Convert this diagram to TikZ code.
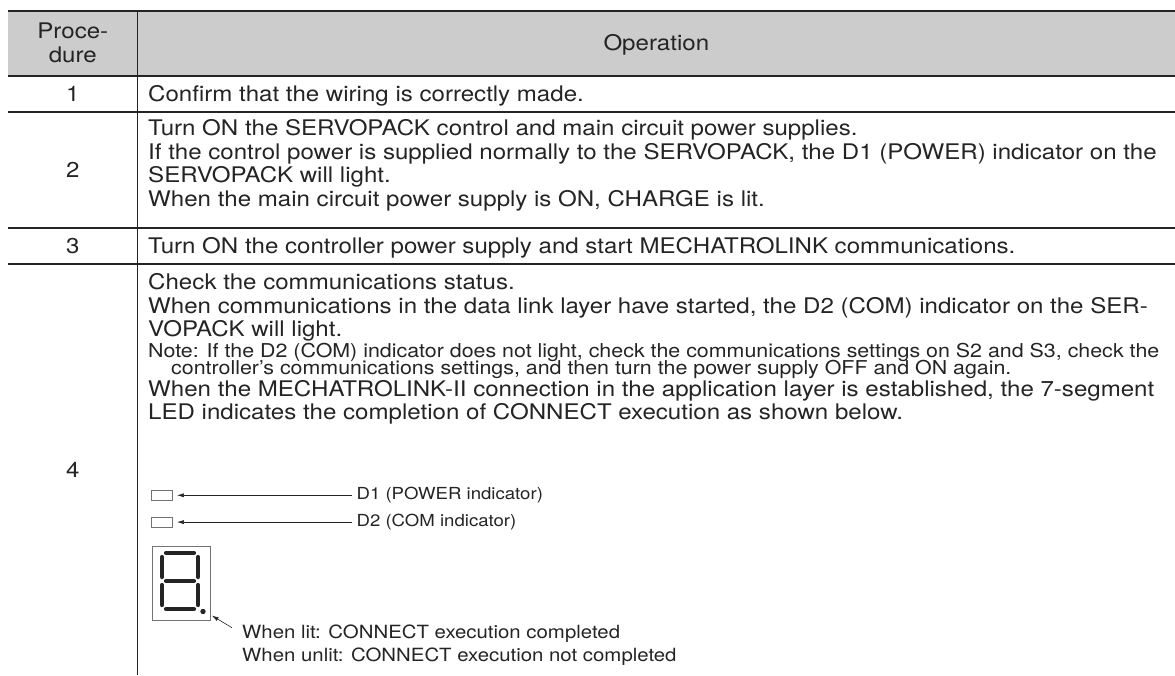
\documentclass[tikz,border=0pt]{standalone}
\usepackage{fontspec}
\setmainfont{TeX Gyre Heros}[FakeStretch=1.12]
\usepackage{tikz}
\usetikzlibrary{positioning,arrows.meta}

\definecolor{headgray}{gray}{0.80}
\definecolor{ink}{gray}{0.14}
\definecolor{boxgray}{gray}{0.45}

\tikzset{
  rule/.style={line width=1.8pt, ink},
  body/.style={font=\fontsize{21.5}{23.3}\selectfont, text=ink, inner sep=0pt, anchor=base west},
  num/.style={font=\fontsize{21.5}{23.3}\selectfont, text=ink, inner sep=0pt, anchor=base},
  note/.style={font=\fontsize{19.1}{17}\selectfont, text=ink, inner sep=0pt, anchor=base west},
  tag/.style={font=\fontsize{16.6}{22}\selectfont, text=ink, inner sep=0pt},
  lit/.style={font=\fontsize{18.2}{22}\selectfont, text=ink, inner sep=0pt, anchor=base west},
  lamp/.style={draw=boxgray, line width=0.8pt, minimum width=21pt, minimum height=10pt, inner sep=0pt},
  seg/.style={line width=4.2pt, line cap=round, ink},
  pointer/.style={-{Latex[length=7pt,width=4pt]}, line width=0.6pt, ink}
}

\begin{document}
\begin{tikzpicture}[x=1pt,y=-1pt]
\useasboundingbox (0,0) rectangle (1175,675);

  % Table frame
\fill[headgray] (8,11.3) rectangle (1175,75.7);
\draw[rule] (8,11.3) -- (1175,11.3);
\draw[rule] (8,75.7) -- (1175,75.7);
\draw[rule] (8,111.7) -- (1175,111.7);
\draw[rule] (8,227.7) -- (1175,227.7);
\draw[rule] (8,264) -- (1175,264);
\draw[rule] (137.5,11.3) -- (137.5,675);

  % Header
\node[num] (hproc) at (72.8,38) {Proce-};
\node[num] (hdure) at (72.8,62) {dure};
\node[num] (hop)   at (656.3,50.5) {Operation};

  % Step numbers
\node[num] (n1) at (72.8,101.5) {1};
\node[num] (n2) at (72.8,177.5) {2};
\node[num] (n3) at (72.8,253.5) {3};
\node[num] (n4) at (72.8,477) {4};

  % Operations
\node[body] (op1) at (148,101.5) {Confirm that the wiring is correctly made.};
\foreach \txt [count=\i] in {{Turn ON the SERVOPACK control and main circuit power supplies.},
  {If the control power is supplied normally to the SERVOPACK, the D1 (POWER) indicator on the},
  {SERVOPACK will light.},
  {When the main circuit power supply is ON, CHARGE is lit.}}
  \node[body] (op2-\i) at (148,{112.4+23.4*\i}) {\txt};
\node[body] (op3) at (148,253.5) {Turn ON the controller power supply and start MECHATROLINK communications.};
\foreach \txt [count=\i] in {{Check the communications status.},
  {When communications in the data link layer have started, the D2 (COM) indicator on the SER-},
  {VOPACK will light.}}
  \node[body] (op4-\i) at (148,{266+23.5*\i}) {\txt};
\node[note] (note1) at (148,357) {Note: If the D2 (COM) indicator does not light, check the communications settings on S2 and S3, check the};
\node[note] (note2) at (171,374) {controller’s communications settings, and then turn the power supply OFF and ON again.};
\node[body] (op4b-1) at (148,396) {When the MECHATROLINK-II connection in the application layer is established, the 7-segment};
\node[body] (op4b-2) at (148,419.5) {LED indicates the completion of CONNECT execution as shown below.};

  % Indicators
\node[lamp] (d1) at (161.5,495.3) {};
\node[lamp, below=16pt of d1] (d2) {};
\node[tag, right=184pt of d1] (d1txt) {D1 (POWER indicator)};
\node[tag, right=184pt of d2] (d2txt) {D2 (COM indicator)};
\draw[pointer] ([xshift=-4pt]d1txt.west) -- ([xshift=4.5pt]d1.east);
\draw[pointer] ([xshift=-4pt]d2txt.west) -- ([xshift=4.5pt]d2.east);

  % 7-segment LED
\node[draw=boxgray, line width=0.8pt, minimum width=58.5pt, minimum height=74pt, inner sep=0pt] (led) at (181.5,583) {};
\draw[seg] (166,553) -- (194,553);
\draw[seg] (166,581) -- (194,581);
\draw[seg] (166,609) -- (194,609);
\draw[seg] (162,557) -- (162,577);
\draw[seg] (198,557) -- (198,577);
\draw[seg] (162,585) -- (162,605);
\draw[seg] (198,585) -- (198,605);
\fill[ink] (203,611.5) circle (2.7pt) coordinate (ledot);
\coordinate (ledtip) at (211.7,615.5);
\node[lit] (litok)  at (242,638.5) {When lit: CONNECT execution completed};
\node[lit] (unlit)  at (242,661) {When unlit: CONNECT execution not completed};
\draw[pointer] ([xshift=-10pt,yshift=-3pt]litok.north west) -- (ledtip);

\end{tikzpicture}
\end{document}
